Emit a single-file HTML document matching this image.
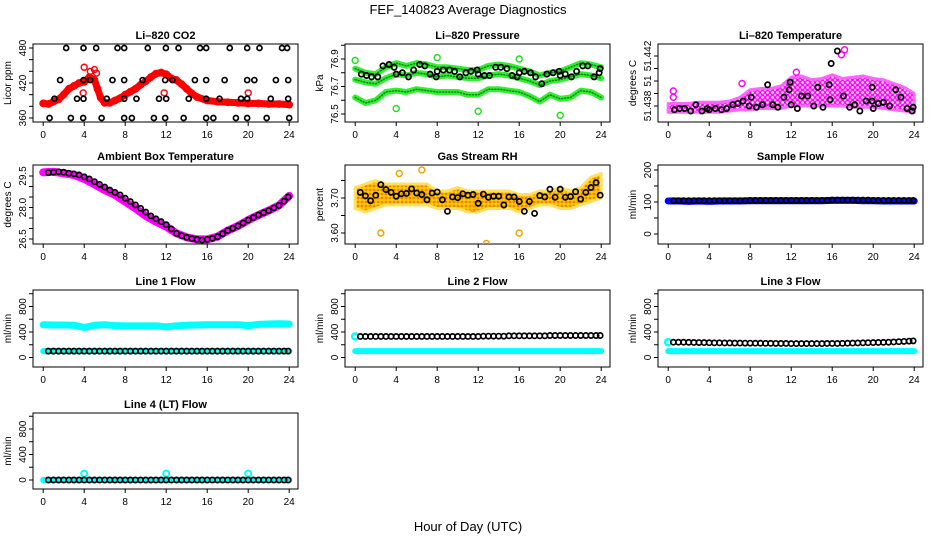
<!DOCTYPE html>
<html><head><meta charset="utf-8"><style>
html,body{margin:0;padding:0;background:#fff;}
svg{display:block;font-family:"Liberation Sans",sans-serif;}
</style></head><body>
<svg id="chart" width="936" height="540" viewBox="0 0 936 540" xmlns="http://www.w3.org/2000/svg">
<defs>
<pattern id="magentaDots" width="5" height="5" patternUnits="userSpaceOnUse">
<rect width="5" height="5" fill="#ffd6ff"/>
<circle cx="2.5" cy="2.5" r="2" fill="none" stroke="#ff00ff" stroke-width="1.2"/>
</pattern>
<pattern id="orangeDots" width="4" height="4" patternUnits="userSpaceOnUse">
<rect width="4" height="4" fill="#ffcc00"/>
<circle cx="2" cy="2" r="1.4" fill="#f08000"/>
</pattern>
</defs>
<rect width="936" height="540" fill="#fff"/>
<text x="468" y="14" text-anchor="middle" font-size="13">FEF_140823  Average Diagnostics</text>
<text x="468" y="531" text-anchor="middle" font-size="13">Hour of Day (UTC)</text>
</svg>
<script>
// ---- data ----
const hourly = [0,1,2,3,4,5,6,7,8,9,10,11,12,13,14,15,16,17,18,19,20,21,22,23,24];
const halfHours = [0.5,1,1.5,2,2.5,3,3.5,4,4.5,5,5.5,6,6.5,7,7.5,8,8.5,9,9.5,10,10.5,11,11.5,12,12.5,13,13.5,14,14.5,15,15.5,16,16.5,17,17.5,18,18.5,19,19.5,20,20.5,21,21.5,22,22.5,23,23.5,23.9];

const co2Hours = [0,0.5,1,1.5,2,2.5,3,3.5,4,4.5,5,5.3,5.6,6,6.5,7,7.5,8,8.5,9,9.5,10,10.5,11,11.5,12,12.5,13,13.5,14,14.5,15,16,17,18,19,20,21,22,23,24];
const co2Red = [385,384,388,392,400,410,415,420,422,430,425,410,395,386,386,390,394,400,405,410,417,423,430,436,438,435,428,425,418,410,402,396,390,388,387,386,385,385,384,384,383];
const co2RedOutH = [4.0,4.6,5.0,5.2,11.8,20,3.9];
const co2RedOutV = [447,440,443,437,403,403,403];
const co2BlackH = [2.24,3.93,5.17,7.25,7.9,10.2,11.97,13.2,15.3,15.9,18.2,19.9,21.1,23.3,23.8,
 1.65,3.93,4.58,6.76,7.9,9.7,11.9,12.6,14.8,15.9,17.7,19.9,20.6,22.7,23.9,
 1.1,3.3,3.93,6.2,7.9,9.1,11.3,12.0,14.2,15.9,17.2,19.3,19.9,22.2,23.9,
 0.62,2.7,3.9,5.7,7.9,8.65,10.8,11.9,13.7,15.9,16.6,18.8,19.9,21.8,24.0];
const co2BlackV = [480,480,480,480,480,480,480,480,480,480,480,480,480,480,480,
 425,425,425,425,425,425,425,425,425,425,425,425,425,425,425,
 393,393,393,393,393,393,393,393,393,393,393,393,393,393,393,
 360,360,360,360,360,360,360,360,360,360,360,360,360,360,360];

const presTop = [76.83,76.80,76.79,76.84,76.87,76.85,76.87,76.86,76.84,76.84,76.83,76.82,76.82,76.85,76.86,76.85,76.83,76.81,76.78,76.80,76.81,76.84,76.87,76.86,76.84];
const presMid = [76.75,76.73,76.72,76.76,76.79,76.78,76.80,76.79,76.77,76.78,76.77,76.76,76.76,76.78,76.79,76.78,76.76,76.74,76.71,76.74,76.75,76.77,76.79,76.78,76.76];
const presLow = [76.62,76.58,76.60,76.66,76.67,76.66,76.68,76.67,76.66,76.66,76.66,76.64,76.64,76.68,76.68,76.67,76.66,76.63,76.59,76.64,76.61,76.62,76.67,76.66,76.62];
const presOutH = [0,4,8,12,16,20];
const presOutV = [76.89,76.54,76.91,76.52,76.90,76.49];
const presBlackH = [0.6,1.1,1.6,2.2,2.7,3.3,3.8,4.0,4.6,5.2,5.7,6.3,6.8,7.3,7.9,8.0,8.6,9.2,9.7,10.2,10.8,11.3,11.9,12.0,12.6,13.1,13.7,14.2,14.8,15.3,15.8,16.0,16.5,17.1,17.6,18.2,18.7,19.3,19.9,20.0,20.5,21.1,21.6,22.2,22.7,23.3,23.8,23.9];
const presBlackV = [76.79,76.78,76.77,76.77,76.85,76.86,76.84,76.79,76.80,76.77,76.82,76.86,76.85,76.79,76.77,76.81,76.82,76.82,76.81,76.77,76.80,76.81,76.82,76.79,76.78,76.78,76.84,76.84,76.83,76.78,76.77,76.80,76.81,76.80,76.77,76.72,76.79,76.80,76.81,76.78,76.79,76.77,76.81,76.85,76.85,76.77,76.80,76.83];

const tempLow = [51.4375,51.4375,51.4375,51.4375,51.4375,51.4375,51.4376,51.4377,51.4377,51.4378,51.4378,51.4378,51.4380,51.4380,51.4380,51.4380,51.4380,51.4380,51.4379,51.4379,51.4379,51.4378,51.4377,51.4376,51.4375];
const tempHigh = [51.4382,51.4382,51.4382,51.4383,51.4383,51.4383,51.4384,51.4387,51.4393,51.4394,51.4394,51.4396,51.4403,51.4404,51.4401,51.4402,51.4405,51.4402,51.4403,51.4404,51.4402,51.4401,51.4398,51.4395,51.4390];
const tempBlackH = [0.6,1.1,1.6,2.2,2.7,3.3,3.8,4.0,4.6,5.2,5.7,6.3,6.8,7.3,7.9,8.1,8.6,9.2,9.7,10.2,10.7,11.3,11.8,11.9,12.0,12.6,13.0,13.6,14.2,14.6,15.1,15.7,15.8,15.9,16.5,17.1,17.7,18.2,18.7,19.3,19.9,19.9,20.0,20.5,21.0,21.6,22.2,22.7,23.3,23.8,23.9];
const tempBlackV = [51.4377,51.4378,51.4378,51.4376,51.4381,51.4376,51.4378,51.4377,51.4378,51.4377,51.4378,51.4381,51.4382,51.4384,51.4380,51.4387,51.4379,51.4381,51.4397,51.4381,51.4379,51.4387,51.4393,51.4399,51.4381,51.4378,51.4388,51.4388,51.4380,51.4395,51.4379,51.4397,51.4385,51.4414,51.4424,51.4388,51.4379,51.4381,51.4376,51.4384,51.4384,51.4395,51.4378,51.4382,51.4383,51.4380,51.4393,51.4387,51.4378,51.4376,51.4379];
const tempOutH = [0.5,0.5,7.2,16.9,17.2,12.5];
const tempOutV = [51.4392,51.4387,51.4398,51.4421,51.4425,51.4407];

const ambLine = [29.67,29.70,29.63,29.55,29.36,29.10,28.83,28.60,28.28,27.96,27.60,27.33,27.09,26.77,26.58,26.48,26.48,26.61,26.90,27.12,27.40,27.64,27.85,28.10,28.55];
const ambBlack = [29.66,29.68,29.70,29.68,29.63,29.60,29.55,29.46,29.36,29.23,29.10,28.97,28.83,28.72,28.60,28.44,28.28,28.12,27.96,27.78,27.60,27.46,27.33,27.18,26.98,26.77,26.66,26.58,26.52,26.48,26.45,26.48,26.53,26.61,26.75,26.90,27.01,27.12,27.26,27.40,27.52,27.64,27.75,27.85,27.98,28.10,28.30,28.50];

const rhLow = [3.67,3.66,3.67,3.68,3.68,3.68,3.68,3.68,3.67,3.67,3.67,3.66,3.66,3.67,3.67,3.67,3.66,3.67,3.68,3.68,3.67,3.67,3.68,3.69,3.70];
const rhHigh = [3.73,3.74,3.75,3.74,3.74,3.74,3.74,3.74,3.72,3.72,3.73,3.72,3.72,3.72,3.72,3.72,3.71,3.71,3.72,3.72,3.73,3.72,3.73,3.76,3.77];
const rhBlack = [3.716,3.706,3.692,3.708,3.738,3.724,3.716,3.705,3.712,3.713,3.726,3.714,3.710,3.695,3.714,3.717,3.695,3.662,3.703,3.701,3.712,3.708,3.710,3.685,3.711,3.702,3.705,3.705,3.680,3.703,3.703,3.690,3.662,3.690,3.656,3.707,3.703,3.725,3.702,3.725,3.702,3.704,3.718,3.697,3.716,3.730,3.744,3.708];
const rhOutH = [2.5,12.8,16,4.3,6.5,11.5];
const rhOutV = [3.60,3.57,3.60,3.77,3.78,3.67];

const sampleBlue = [103,103,102,103,102,103,103,103,104,104,104,104,104,104,104,104,105,105,105,104,104,103,103,103,103];
const sampleBlack = [104,104,104,104,104,104,104,104,104,104,104,104,104,104,104,105,105,105,105,105,105,105,105,105,105,105,105,105,105,105,105,106,106,106,106,106,106,106,106,105,105,105,105,105,105,105,105,105];

const l1Cyan = [515,510,510,505,470,505,515,500,495,495,495,495,480,495,505,510,515,515,515,515,500,520,525,530,525];
const l1CyanLow = [100,100,100,100,100,100,100,100,100,100,100,100,100,100,100,100,100,100,100,100,100,100,100,100,100];
const l1Black = [100,100,100,100,100,100,100,100,100,100,100,100,100,100,100,100,100,100,100,100,100,100,100,100,100,100,100,100,100,100,100,100,100,100,100,100,100,100,100,100,100,100,100,100,100,100,100,100];

const l2Cyan = [100,100,100,100,100,100,100,100,100,100,100,100,100,100,100,100,100,100,100,100,100,100,100,100,100];
const l2Black = [330,330,330,330,330,330,330,330,330,330,330,330,330,330,330,330,330,330,330,330,330,330,330,330,335,335,335,335,335,340,340,340,340,340,340,340,340,345,345,345,345,345,345,345,345,345,345,345];
const l3Cyan = [100,100,100,100,100,100,100,100,100,100,100,100,100,100,100,100,100,100,100,100,100,100,100,100,100];
const l3Black = [240,240,240,238,236,235,234,232,230,230,228,228,226,226,225,225,224,224,222,222,221,220,220,218,218,218,218,218,218,218,220,220,220,222,224,226,228,230,232,234,236,238,240,244,248,252,256,260];
const l4Cyan = [0,0,0,0,0,0,0,0,0,0,0,0,0,0,0,0,0,0,0,0,0,0,0,0,0];
const l4CyanOutH = [4,12,20];
const l4CyanOutV = [100,100,100];
const l4Black = [0,0,0,0,0,0,0,0,0,0,0,0,0,0,0,0,0,0,0,0,0,0,0,0,0,0,0,0,0,0,0,0,0,0,0,0,0,0,0,0,0,0,0,0,0,0,0,0];
const xTicks = [0,4,8,12,16,20,24];

// ---- drawing ----
const NS = 'http://www.w3.org/2000/svg';
const svg = document.getElementById('chart');
function mk(parent, tag, attrs, txt){
  const e = document.createElementNS(NS, tag);
  for (const k in attrs) e.setAttribute(k, attrs[k]);
  if (txt !== undefined) e.textContent = txt;
  parent.appendChild(e);
  return e;
}
const colLeft = [33, 345, 658];
const rowBox = [[44,122],[165,244],[290,367],[413,489]];
const W = 265;

function panel(name, col, row, title, ylab, v1, p1, v2, p2, yticks, ylabels){
  const L = colLeft[col], T = rowBox[row][0], B = rowBox[row][1];
  const g = mk(svg, 'g', {});
  
  
  const x = h => L + 10.2 + h * 10.25;
  const y = v => p1 + (v - v1) * (p2 - p1) / (v2 - v1);
  const clipId = name + '-clip';
  const cp = mk(g, 'clipPath', {id: clipId});
  mk(cp, 'rect', {x: L, y: T, width: W, height: B - T});
  const t = mk(g, 'text', {x: L + W/2, y: T - 5, 'text-anchor':'middle', 'font-size':11, 'font-weight':'bold'}, title);
  
  
  const box = mk(g, 'rect', {x: L, y: T, width: W, height: B - T, fill:'none', stroke:'#000', 'stroke-width':1});
  
  
  const yl = mk(g, 'text', {x: 0, y: 0, 'text-anchor':'middle', 'font-size':10, transform:`translate(${L-22},${(T+B)/2}) rotate(-90)`}, ylab);
  
  
  xTicks.forEach(h => {
    mk(g, 'line', {x1: x(h), x2: x(h), y1: B, y2: B + 4, stroke:'#000'});
    const tl = mk(g, 'text', {x: x(h), y: B + 16, 'text-anchor':'middle', 'font-size':10}, String(h));
    
    
  });
  yticks.forEach(v => {
    const py = y(v);
    if (py < T - 0.5 || py > B + 0.5) return;
    mk(g, 'line', {x1: L - 4, x2: L, y1: py, y2: py, stroke:'#000'});
  });
  ylabels.forEach((lab, i) => {
    const py = y(lab[0]);
    const tl = mk(g, 'text', {x: 0, y: 0, 'text-anchor':'middle', 'font-size':10, transform:`translate(${L-7},${py}) rotate(-90)`}, lab[1]);
    
    
  });
  const inner = mk(g, 'g', {'clip-path': `url(#${clipId})`});
  return {x, y, g: inner, name};
}
function band(P, hs, vs, color, width, nm){
  const pts = hs.map((h,i) => P.x(h).toFixed(1) + ',' + P.y(vs[i]).toFixed(1)).join(' ');
  const e = mk(P.g, 'polyline', {points: pts, fill:'none', stroke: color, 'stroke-width': width, 'stroke-linejoin':'round', 'stroke-linecap':'round'});
  
  
  return e;
}
function area(P, hs, lo, hi, fill, stroke, nm){
  const a = hs.map((h,i) => P.x(h).toFixed(1) + ',' + P.y(hi[i]).toFixed(1));
  const b = hs.map((h,i) => P.x(h).toFixed(1) + ',' + P.y(lo[i]).toFixed(1)).reverse();
  const e = mk(P.g, 'polygon', {points: a.concat(b).join(' '), fill: fill, stroke: stroke, 'stroke-width': 3, 'stroke-linejoin':'round'});
  
  
}
function pts(P, hs, vs, color, nm, r, sw){
  hs.forEach((h,i) => {
    const c = mk(P.g, 'circle', {cx: P.x(h), cy: P.y(vs[i]), r: r || 2.8, fill:'none', stroke: color, 'stroke-width': sw || 1.6});
    
    
  });
}

// CO2
let P = panel('co2', 0, 0, 'Li\u2013820 CO2', 'Licor ppm', 480, 48, 360, 118, [360,380,400,420,440,460,480], [[360,'360'],[420,'420'],[480,'480']]);
band(P, co2Hours, co2Red, '#ff0000', 7, 'co2-red-band');
pts(P, co2Hours, co2Red, '#ff0000', 'co2-red-point', 3.2, 1.4);
pts(P, co2RedOutH, co2RedOutV, '#ff0000', 'co2-red-outlier', 3, 1.4);
pts(P, co2BlackH, co2BlackV, '#000', 'co2-black-point', 2.5, 1.7);

// Pressure
P = panel('pressure', 1, 0, 'Li\u2013820 Pressure', 'kPa', 76.9, 59, 76.5, 114, [76.5,76.6,76.7,76.8,76.9,77.0], [[76.5,'76.5'],[76.7,'76.7'],[76.9,'76.9']]);
band(P, hourly, presTop, '#33ee33', 6, 'pressure-green-band-top');
band(P, hourly, presMid, '#33ee33', 6, 'pressure-green-band-mid');
band(P, hourly, presLow, '#33ee33', 6, 'pressure-green-band-low');
[presTop, presMid, presLow].forEach(a => { const e = band(P, hourly, a, '#118811', 1.5, 'pressure-green-core'); e.setAttribute('stroke-dasharray','1 2'); });
pts(P, presOutH, presOutV, '#22dd22', 'pressure-green-outlier', 3, 1.4);
pts(P, presBlackH, presBlackV, '#000', 'pressure-black-point', 2.6, 1.7);

// Temperature
P = panel('licor-temp', 2, 0, 'Li\u2013820 Temperature', 'degrees C', 51.442, 56, 51.438, 106, [51.438,51.439,51.440,51.441,51.442], [[51.438,'51.438'],[51.440,'51'],[51.442,'51.442']]);
area(P, hourly, tempLow, tempHigh, 'url(#magentaDots)', '#ff66ff', 'licor-temp-magenta-band');
pts(P, tempOutH, tempOutV, '#ff00ff', 'licor-temp-magenta-outlier', 3, 1.4);
pts(P, tempBlackH, tempBlackV, '#000', 'licor-temp-black-point', 2.6, 1.7);

// Ambient
P = panel('ambient-temp', 0, 1, 'Ambient Box Temperature', 'degrees C', 29.5, 176, 26.5, 239, [26.5,27.0,27.5,28.0,28.5,29.0,29.5], [[26.5,'26.5'],[28.0,'28.0'],[29.5,'29.5']]);
band(P, hourly, ambLine, '#ff00ff', 8, 'ambient-magenta-line');
pts(P, halfHours, ambBlack, '#000', 'ambient-black-point', 2.6, 1.7);

// RH
P = panel('rh', 1, 1, 'Gas Stream RH', 'percent', 3.70, 198, 3.60, 233, [3.60,3.65,3.70,3.75], [[3.60,'3.60'],[3.70,'3.70']]);
area(P, hourly, rhLow, rhHigh, 'url(#orangeDots)', '#ffe060', 'rh-orange-band');
pts(P, rhOutH, rhOutV, '#f5a000', 'rh-outlier', 3, 1.4);
pts(P, halfHours, rhBlack, '#000', 'rh-black-point', 2.6, 1.7);

// Sample flow
P = panel('sample-flow', 2, 1, 'Sample Flow', 'ml/min', 200, 170, 0, 234, [0,50,100,150,200], [[0,'0'],[100,'100'],[200,'200']]);
band(P, hourly, sampleBlue, '#0000ff', 7, 'sample-blue-band');
pts(P, halfHours, sampleBlack, '#000', 'sample-black-point', 2.6, 1.7);

const flowTicks = [-200,0,200,400,600,800,1000];
const flowLabels = [[0,'0'],[400,'400'],[800,'800']];
P = panel('line1-flow', 0, 2, 'Line 1 Flow', 'ml/min', 0, 357.5, 800, 306.5, flowTicks, flowLabels);
band(P, hourly, l1Cyan, '#00ffff', 7, 'line1-cyan-band');
band(P, hourly, l1CyanLow, '#00ffff', 6, 'line1-cyan-low');
pts(P, halfHours, l1Black, '#000', 'line1-black-point', 2.6, 1.7);

P = panel('line2-flow', 1, 2, 'Line 2 Flow', 'ml/min', 0, 357.5, 800, 306.5, flowTicks, flowLabels);
band(P, hourly, l2Cyan, '#00ffff', 6, 'line2-cyan-band');
pts(P, [0], [330], '#00ffff', 'line2-cyan-start', 3, 2.5);
pts(P, halfHours, l2Black, '#000', 'line2-black-point', 2.6, 1.7);

P = panel('line3-flow', 2, 2, 'Line 3 Flow', 'ml/min', 0, 357.5, 800, 306.5, flowTicks, flowLabels);
band(P, hourly, l3Cyan, '#00ffff', 6, 'line3-cyan-band');
pts(P, [0], [240], '#00ffff', 'line3-cyan-start', 3, 2.5);
pts(P, halfHours, l3Black, '#000', 'line3-black-point', 2.6, 1.7);

P = panel('line4-flow', 0, 3, 'Line 4 (LT) Flow', 'ml/min', 0, 480, 800, 429, flowTicks, flowLabels);
band(P, hourly, l4Cyan, '#00ffff', 6, 'line4-cyan-band');
pts(P, l4CyanOutH, l4CyanOutV, '#00ffff', 'line4-cyan-outlier', 3, 2);
pts(P, halfHours, l4Black, '#000', 'line4-black-point', 2.6, 1.7);
</script>
</body></html>
